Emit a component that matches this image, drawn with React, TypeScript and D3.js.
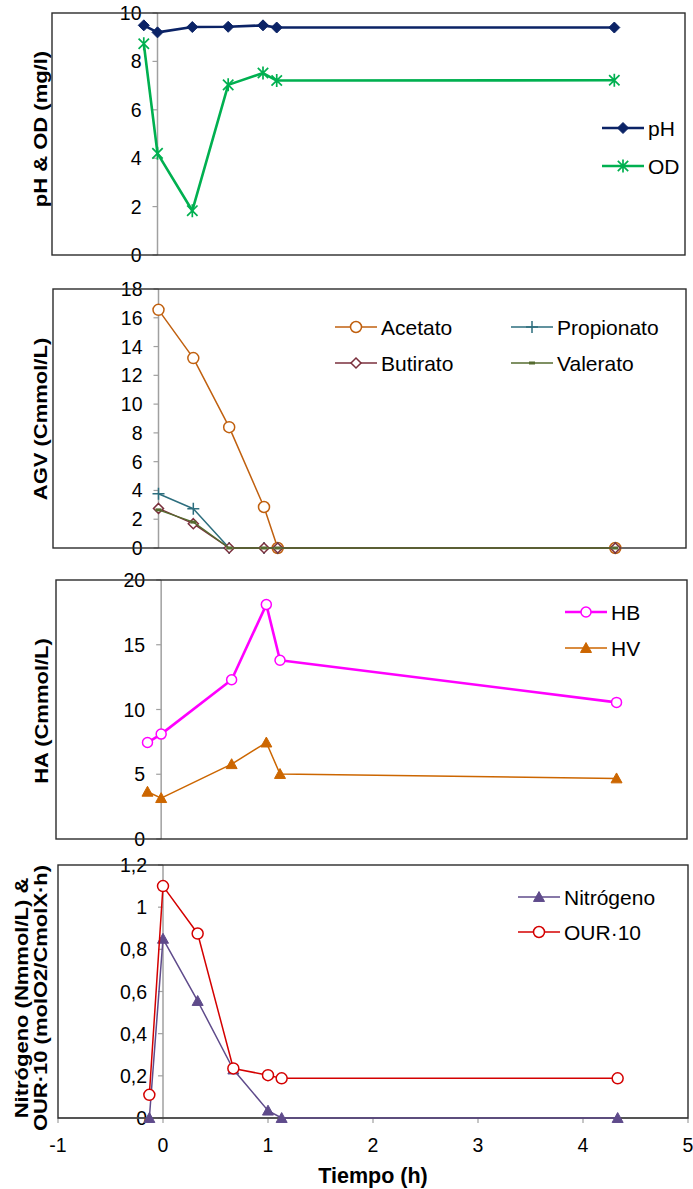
import React from "react";
import * as d3 from "d3";

// Sampling times (h)
const tiempo = [-0.13, 0, 0.33, 0.67, 1.0, 1.13, 4.33];
const tiempoAGV = [0, 0.33, 0.67, 1.0, 1.13, 4.33];
const tiempoHA = [-0.13, 0, 0.67, 1.0, 1.13, 4.33];

// pH & dissolved oxygen (mg/l)
const ph = [9.49, 9.2, 9.42, 9.43, 9.49, 9.4, 9.4];
const od = [8.73, 4.2, 1.83, 7.03, 7.52, 7.21, 7.22];

// Volatile fatty acids (Cmmol/L)
const acetato = [16.55, 13.2, 8.4, 2.85, 0, 0];
const propionato = [3.77, 2.73, 0, 0, 0, 0];
const butirato = [2.75, 1.69, 0, 0, 0, 0];
const valerato = [2.65, 1.8, 0, 0, 0, 0];

// Hydroxyacids (Cmmol/L)
const hb = [7.45, 8.1, 12.3, 18.1, 13.8, 10.55];
const hv = [3.65, 3.16, 5.78, 7.45, 5.02, 4.68];

// Nitrogen (Nmmol/L) and OUR·10
const nitrogeno = [0, 0.85, 0.555, 0.23, 0.035, 0, 0];
const our10 = [0.11, 1.1, 0.875, 0.235, 0.203, 0.188, 0.188];

// Axis ticks
const xTicks = [-1, 0, 1, 2, 3, 4, 5];
const ticksPH = [0, 2, 4, 6, 8, 10];
const ticksAGV = [0, 2, 4, 6, 8, 10, 12, 14, 16, 18];
const ticksHA = [0, 5, 10, 15, 20];
const ticksN = [0, 0.2, 0.4, 0.6, 0.8, 1, 1.2];

const FONT = "'Liberation Sans', Arial, Helvetica, sans-serif";
const TICK_FS = 19.5;
const LEGEND_FS = 21;
const TITLE_FS = 22;

type Marker =
  | "diamond"
  | "diamondOpen"
  | "asterisk"
  | "circleOpen"
  | "plus"
  | "dash"
  | "triangle";

interface Series {
  name: string;
  xs: number[];
  ys: number[];
  color: string;
  width: number;
  marker: Marker;
  size: number;
}

function drawMarker(m: Marker, cx: number, cy: number, color: string, r: number, key?: string) {
  switch (m) {
    case "diamond":
      return (
        <path key={key} d={`M${cx},${cy - r}L${cx + r},${cy}L${cx},${cy + r}L${cx - r},${cy}Z`} fill={color} stroke={color} strokeWidth={1} />
      );
    case "diamondOpen":
      return (
        <path key={key} d={`M${cx},${cy - r}L${cx + r},${cy}L${cx},${cy + r}L${cx - r},${cy}Z`} fill="white" stroke={color} strokeWidth={1.5} />
      );
    case "asterisk": {
      const a = r * 0.8;
      return (
        <path key={key} d={`M${cx - a},${cy - a}L${cx + a},${cy + a}M${cx - a},${cy + a}L${cx + a},${cy - a}M${cx},${cy - r}L${cx},${cy + r}`} fill="none" stroke={color} strokeWidth={1.7} />
      );
    }
    case "circleOpen":
      return <circle key={key} cx={cx} cy={cy} r={r} fill="white" stroke={color} strokeWidth={1.5} />;
    case "plus":
      return (
        <path key={key} d={`M${cx - r},${cy}L${cx + r},${cy}M${cx},${cy - r}L${cx},${cy + r}`} fill="none" stroke={color} strokeWidth={1.5} />
      );
    case "dash":
      return <rect key={key} x={cx - r} y={cy - 1.5} width={2 * r} height={3} fill={color} />;
    case "triangle": {
      const h = r * 1.8;
      return (
        <path key={key} d={`M${cx},${cy - h * 0.55}L${cx + r},${cy + h * 0.45}L${cx - r},${cy + h * 0.45}Z`} fill={color} stroke={color} strokeWidth={1} />
      );
    }
  }
}

interface LegendItem {
  series: Series;
  lx: number;
  ly: number;
}

interface PanelProps {
  box: { left: number; right: number; top: number; bottom: number };
  yMax: number;
  yTicks: number[];
  fmt: (v: number) => string;
  series: Series[];
  legend: LegendItem[];
  titles: { text: string; x: number }[];
  titleY: number;
  xAxis?: boolean;
}

function Panel({ box, yMax, yTicks, fmt, series, legend, titles, titleY, xAxis }: PanelProps) {
  const x = d3.scaleLinear().domain([-1, 5]).range([box.left, box.right]);
  const y = d3.scaleLinear().domain([0, yMax]).range([box.bottom, box.top]);
  const line = d3
    .line<[number, number]>()
    .x((d) => x(d[0]))
    .y((d) => y(d[1]));
  const x0 = x(0);
  return (
    <g>
      {/* zero axis and ticks */}
      <line x1={x0} x2={x0} y1={box.top} y2={box.bottom} stroke="#a0a0a0" strokeWidth={1.5} />
      {yTicks.map((t) => (
        <g key={t}>
          <line x1={x0 - 5} x2={x0} y1={y(t)} y2={y(t)} stroke="#a0a0a0" strokeWidth={1.2} />
          <text x={x0 - 16} y={y(t)} dy="0.36em" textAnchor="end" fontSize={TICK_FS} fontFamily={FONT} fill="#000">
            {fmt(t)}
          </text>
        </g>
      ))}
      {xAxis && (
        <g>
          <line x1={box.left} x2={box.right} y1={y(0)} y2={y(0)} stroke="#a0a0a0" strokeWidth={1.5} />
          {xTicks.map((t) => (
            <g key={t}>
              <line x1={x(t)} x2={x(t)} y1={y(0)} y2={y(0) + 5} stroke="#a0a0a0" strokeWidth={1.2} />
              <text x={x(t)} y={y(0) + 27} dy="0.36em" textAnchor="middle" fontSize={TICK_FS} fontFamily={FONT}>
                {t}
              </text>
            </g>
          ))}
        </g>
      )}
      {/* plot frame */}
      <rect x={box.left} y={box.top} width={box.right - box.left} height={box.bottom - box.top} fill="none" stroke="#2b2b2b" strokeWidth={1.4} />
      {/* series */}
      {series.map((s) => {
        const pts = s.xs.map((xv, i) => [xv, s.ys[i]] as [number, number]);
        return (
          <g key={s.name}>
            <path d={line(pts) || ""} fill="none" stroke={s.color} strokeWidth={s.width} strokeLinejoin="round" />
            {pts.map((p, i) => drawMarker(s.marker, x(p[0]), y(p[1]), s.color, s.size, `${s.name}${i}`))}
          </g>
        );
      })}
      {/* legend */}
      {legend.map(({ series: s, lx, ly }) => (
        <g key={"lg" + s.name}>
          <line x1={lx} x2={lx + 42} y1={ly} y2={ly} stroke={s.color} strokeWidth={s.width} />
          {drawMarker(s.marker, lx + 21, ly, s.color, s.size)}
          <text x={lx + 46} y={ly} dy="0.36em" fontSize={LEGEND_FS} fontFamily={FONT}>
            {s.name}
          </text>
        </g>
      ))}
      {/* axis title (narrow, rotated) */}
      {titles.map((t) => (
        <text
          key={t.text}
          transform={`translate(${t.x},${titleY}) rotate(-90) scale(1,0.86)`}
          textAnchor="middle"
          dy="0.36em"
          fontSize={TITLE_FS}
          fontWeight="bold"
          fontFamily={FONT}
        >
          {t.text}
        </text>
      ))}
    </g>
  );
}

const fmtInt = (v: number) => String(v);
const fmtComma = (v: number) => String(v).replace(".", ",");

export default function App() {
  const sPH: Series = { name: "pH", xs: tiempo, ys: ph, color: "#0b2366", width: 2.6, marker: "diamond", size: 5.5 };
  const sOD: Series = { name: "OD", xs: tiempo, ys: od, color: "#00b050", width: 2.6, marker: "asterisk", size: 6.5 };

  const sAce: Series = { name: "Acetato", xs: tiempoAGV, ys: acetato, color: "#c0600f", width: 1.5, marker: "circleOpen", size: 5.5 };
  const sPro: Series = { name: "Propionato", xs: tiempoAGV, ys: propionato, color: "#2d6e7e", width: 1.5, marker: "plus", size: 6 };
  const sBut: Series = { name: "Butirato", xs: tiempoAGV, ys: butirato, color: "#7a2f3c", width: 1.5, marker: "diamondOpen", size: 5 };
  const sVal: Series = { name: "Valerato", xs: tiempoAGV, ys: valerato, color: "#556b2f", width: 1.5, marker: "dash", size: 3 };

  const sHB: Series = { name: "HB", xs: tiempoHA, ys: hb, color: "#ff00ff", width: 2.6, marker: "circleOpen", size: 5 };
  const sHV: Series = { name: "HV", xs: tiempoHA, ys: hv, color: "#cc6600", width: 1.5, marker: "triangle", size: 5.5 };

  const sN: Series = { name: "Nitrógeno", xs: tiempo, ys: nitrogeno, color: "#5f4b8b", width: 1.5, marker: "triangle", size: 5.5 };
  const sOUR: Series = { name: "OUR·10", xs: tiempo, ys: our10, color: "#d40000", width: 1.5, marker: "circleOpen", size: 5.5 };

  return (
    <svg
      width={693}
      height={1189}
      viewBox="0 0 693 1189"
      style={{ position: "absolute", left: 0, top: 0, background: "white" }}
    >
      <rect width={693} height={1189} fill="white" />
      <Panel
        box={{ left: 52, right: 685, top: 13, bottom: 255 }}
        yMax={10}
        yTicks={ticksPH}
        fmt={fmtInt}
        series={[sPH, sOD]}
        legend={[
          { series: sPH, lx: 602, ly: 128 },
          { series: sOD, lx: 602, ly: 166 },
        ]}
        titles={[{ text: "pH & OD (mg/l)", x: 40 }]}
        titleY={129}
      />
      <Panel
        box={{ left: 53, right: 686, top: 289, bottom: 548 }}
        yMax={18}
        yTicks={ticksAGV}
        fmt={fmtInt}
        series={[sAce, sPro, sBut, sVal]}
        legend={[
          { series: sAce, lx: 335, ly: 327 },
          { series: sPro, lx: 511, ly: 327 },
          { series: sBut, lx: 335, ly: 363 },
          { series: sVal, lx: 511, ly: 363 },
        ]}
        titles={[{ text: "AGV (Cmmol/L)", x: 40 }]}
        titleY={419}
      />
      <Panel
        box={{ left: 56, right: 687, top: 580, bottom: 839 }}
        yMax={20}
        yTicks={ticksHA}
        fmt={fmtInt}
        series={[sHB, sHV]}
        legend={[
          { series: sHB, lx: 565, ly: 612 },
          { series: sHV, lx: 565, ly: 648 },
        ]}
        titles={[{ text: "HA (Cmmol/L)", x: 41 }]}
        titleY={711}
      />
      <Panel
        box={{ left: 58, right: 688, top: 865, bottom: 1118 }}
        yMax={1.2}
        yTicks={ticksN}
        fmt={fmtComma}
        series={[sN, sOUR]}
        legend={[
          { series: sN, lx: 518, ly: 897 },
          { series: sOUR, lx: 518, ly: 932 },
        ]}
        titles={[
          { text: "Nitrógeno (Nmmol/L) &", x: 21 },
          { text: "OUR·10 (molO2/CmolX·h)", x: 40 },
        ]}
        titleY={998}
        xAxis
      />
      <text x={373} y={1175} dy="0.36em" textAnchor="middle" fontSize={21.5} fontWeight="bold" fontFamily={FONT}>
        Tiempo (h)
      </text>
    </svg>
  );
}
